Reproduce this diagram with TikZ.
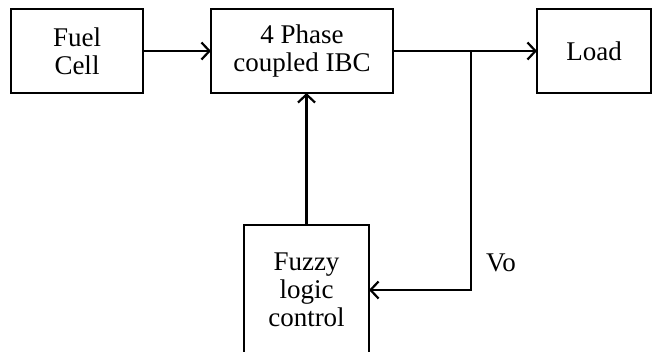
\documentclass[tikz,border=0pt]{standalone}
\usepackage{fontspec}
\setmainfont{Liberation Serif}
\usepackage{tikz}
\usetikzlibrary{arrows.meta,positioning}
\tikzset{
  blockbox/.style={draw=black,line width=1.8pt,minimum height=84pt,align=center,inner sep=2pt,outer sep=0pt,font=\fontsize{27}{28}\selectfont},
  flowarrow/.style={-{Straight Barb[length=8pt,width=17pt]},line width=2.2pt,draw=black},
  labeltext/.style={font=\fontsize{27}{28}\selectfont,inner sep=0pt}
}
\begin{document}
\begin{tikzpicture}[x=1pt,y=-1pt,node distance=0pt]
  \useasboundingbox (0,0) rectangle (653,351);
  \clip (0,0) rectangle (653,351);
  \node[blockbox,minimum width=132pt] (fuel) at (77,51) {Fuel\\Cell};
  \node[blockbox,minimum width=182pt,right=68pt of fuel] (ibc) {4 Phase\\coupled IBC};
  \node[blockbox,minimum width=114pt,right=144pt of ibc] (load) {Load};
  \node[blockbox,minimum width=125pt,minimum height=130pt] (fuzzy) at (306.5,290) {Fuzzy\\logic\\control};
  \coordinate (split) at (471,51);
  \node[labeltext] (vo) at (501,263) {Vo};
  \draw[flowarrow] (fuel) -- (ibc);
  \draw[flowarrow] (ibc) -- (load);
  \draw[flowarrow] (fuzzy.north) -- (fuzzy.north |- ibc.south);
  \draw[flowarrow] (split) |- (fuzzy.east);
\end{tikzpicture}
\end{document}
